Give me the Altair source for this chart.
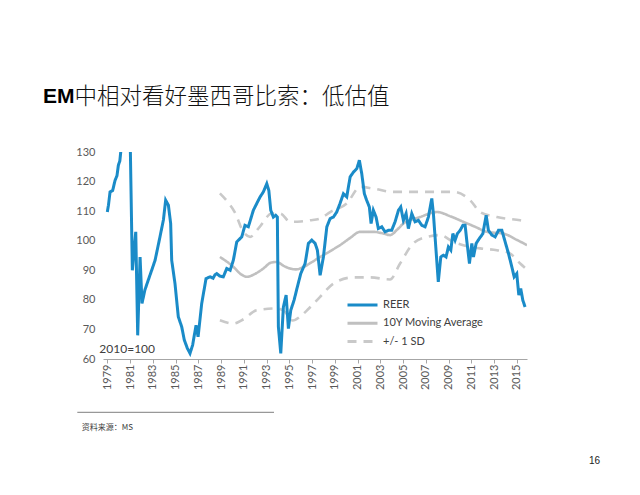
import altair as alt
import pandas as pd

# ---- data ----
reer_year = [1979.0, 1979.1, 1979.24, 1979.47, 1979.68, 1979.85, 1979.97, 1980.1, 1980.18, 1980.4,
             1980.7, 1980.95, 1981.2, 1981.5, 1981.67, 1981.88, 1982.05, 1982.3, 1982.7, 1982.9,
             1983.2, 1983.57, 1983.93, 1984.13, 1984.37, 1984.57, 1984.66, 1984.95, 1985.24, 1985.54,
             1985.77, 1986.04, 1986.27, 1986.5, 1986.8, 1986.98, 1987.3, 1987.68, 1988.03, 1988.3,
             1988.47, 1988.62, 1988.9, 1989.2, 1989.5, 1989.8, 1990.08, 1990.38, 1990.82, 1991.1,
             1991.4, 1991.84, 1992.14, 1992.43, 1992.72, 1993.02, 1993.2, 1993.37, 1993.6, 1993.8,
             1993.95, 1994.04, 1994.25, 1994.48, 1994.72, 1994.92, 1995.13, 1995.42, 1995.71, 1996.01,
             1996.39, 1996.68, 1996.98, 1997.27, 1997.47, 1997.71, 1998.0, 1998.3, 1998.59, 1998.88,
             1999.17, 1999.46, 1999.76, 2000.05, 2000.35, 2000.64, 2000.94, 2001.16, 2001.37, 2001.6,
             2001.8, 2002.04, 2002.19, 2002.39, 2002.63, 2002.83, 2003.13, 2003.42, 2003.71, 2004.0,
             2004.3, 2004.6, 2004.8, 2005.03, 2005.27, 2005.47, 2005.77, 2006.06, 2006.35, 2006.65,
             2006.94, 2007.23, 2007.53, 2007.67, 2007.9, 2008.1, 2008.32, 2008.55, 2008.78, 2008.99,
             2009.2, 2009.38, 2009.58, 2009.78, 2010.02, 2010.26, 2010.46, 2010.6, 2010.84, 2011.05,
             2011.19, 2011.43, 2011.72, 2012.02, 2012.31, 2012.51, 2012.81, 2013.1, 2013.39, 2013.69,
             2013.98, 2014.27, 2014.57, 2014.77, 2015.0, 2015.18, 2015.35, 2015.53, 2015.73]
reer_val = [109.7, 112.0, 116.5, 117.0, 120.4, 122.0, 125.5, 127.0, 130.0, 135.0,
            140.0, 148.0, 90.0, 103.0, 68.0, 94.5, 78.8, 83.3, 87.8, 90.0,
            93.4, 100.2, 107.0, 113.7, 112.0, 105.8, 93.4, 85.5, 74.3, 70.9,
            66.4, 63.6, 61.9, 64.7, 71.4, 67.5, 78.8, 87.2, 87.8, 87.3,
            88.5, 88.9, 88.0, 87.8, 90.6, 90.0, 93.4, 99.6, 101.3, 105.2,
            104.7, 110.3, 112.6, 114.8, 116.5, 119.3, 117.0, 110.3, 108.0, 108.6,
            108.0, 70.9, 61.9, 77.6, 81.6, 70.3, 76.5, 79.9, 84.4, 88.9,
            92.3, 99.1, 100.2, 99.1, 96.8, 88.3, 94.5, 104.7, 107.5, 108.0,
            109.7, 112.6, 115.9, 114.8, 121.6, 123.2, 124.4, 127.2, 122.7, 115.9,
            113.7, 111.4, 105.8, 110.3, 108.0, 104.1, 104.7, 103.0, 103.5, 103.5,
            106.4, 110.3, 111.4, 106.9, 109.2, 104.1, 109.2, 106.4, 106.9, 105.2,
            104.7, 108.0, 114.3, 109.2, 96.8, 86.1, 94.5, 95.1, 94.5, 97.9,
            96.8, 102.4, 100.2, 102.4, 103.5, 105.2, 105.2, 100.2, 92.3, 99.1,
            94.5, 99.1, 100.8, 102.4, 108.6, 103.5, 101.9, 101.3, 103.5, 103.5,
            99.6, 95.7, 91.1, 87.8, 88.9, 81.6, 83.8, 79.9, 77.6]

ma_year = [1988.9, 1990.1, 1990.7, 1991.26, 1992.0, 1992.72, 1993.4, 1993.9, 1994.5, 1995.07,
           1995.6, 1996.24, 1997.0, 1997.71, 1998.6, 1999.46, 2000.3, 2001.24, 2002.4, 2003.3,
           2003.86, 2004.5, 2005.03, 2006.5, 2007.97, 2009.2, 2010.3, 2011.4, 2012.37, 2013.83,
           2015.0, 2015.9]
ma_val = [94.5, 91.1, 88.8, 87.8, 88.8, 90.6, 92.6, 92.8, 91.5, 90.6,
          90.3, 91.1, 92.8, 94.5, 96.5, 98.5, 100.8, 103.0, 103.0, 102.4,
          101.9, 103.8, 105.8, 108.0, 109.7, 108.2, 106.4, 104.6, 103.0, 102.4,
          100.3, 98.5]

up_year = [1988.9, 1989.5, 1990.2, 1990.96, 1991.55, 1992.4, 1993.46, 1994.2, 1995.07, 1996.0,
           1996.83, 1997.7, 1998.6, 2000.05, 2001.24, 2002.4, 2004.16, 2006.5, 2007.38, 2009.43,
           2010.9, 2011.78, 2013.25, 2015.3, 2015.9]
up_val = [116.0, 113.5, 109.7, 103.0, 101.3, 104.7, 109.2, 109.2, 106.4, 106.5,
          106.9, 107.5, 109.7, 112.6, 118.2, 117.6, 116.5, 116.5, 116.5, 116.5,
          113.7, 109.7, 108.0, 106.9, 106.5]

lo_year = [1988.9, 1990.1, 1991.0, 1992.14, 1993.9, 1994.6, 1995.3, 1996.0, 1996.7, 1997.71,
           1998.88, 2000.64, 2002.1, 2003.86, 2004.74, 2005.9, 2007.1, 2008.26, 2009.43, 2010.3,
           2011.78, 2013.25, 2014.4, 2015.3, 2015.8]
lo_val = [73.1, 72.0, 73.5, 76.5, 77.1, 76.0, 73.0, 74.5, 77.0, 81.0,
          85.5, 87.6, 87.6, 86.9, 92.3, 99.1, 101.3, 101.9, 99.6, 98.5,
          97.4, 96.8, 95.7, 92.3, 90.6]

series_names = ["REER", "10Y Moving Average", "+/- 1 SD"]
series_colors = ["#1a8bc8", "#c0c0c0", "#c9c9c9"]
series_dash = [[1, 0], [1, 0], [9, 7]]
x_ticks = list(range(1979, 2016, 2))
y_ticks = [60, 70, 80, 90, 100, 110, 120, 130]

base_note = ["2010=100"]
note_year = [1978.3]
note_val = [63.5]

title_em = "EM"
title_cn = "中相对看好墨西哥比索：低估值"
source_text = "资料来源：MS"
page_no = "16"

# ---- tables ----
reer_df = pd.DataFrame({"year": reer_year, "value": reer_val, "series": "REER", "part": "reer"})
band_rows = []
for y, v in zip(ma_year, ma_val):
    band_rows.append({"year": y, "value": v, "series": "10Y Moving Average", "part": "ma"})
for y, v in zip(up_year, up_val):
    band_rows.append({"year": y, "value": v, "series": "+/- 1 SD", "part": "up"})
for y, v in zip(lo_year, lo_val):
    band_rows.append({"year": y, "value": v, "series": "+/- 1 SD", "part": "lo"})
band_df = pd.DataFrame(band_rows)
note_df = pd.DataFrame({"year": note_year, "value": note_val, "label": base_note})
one = pd.DataFrame({"k": [0]})

W, H = 424, 207
FONT = "Lato"

x_scale = alt.Scale(domain=[1978.62, 2015.9], nice=False, zero=False)
y_scale = alt.Scale(domain=[60, 130], nice=False, zero=False)

legend = alt.Legend(
    orient="none", legendX=253, legendY=146.5, title=None, padding=0,
    symbolType="M-3,0H3", symbolSize=100, symbolStrokeWidth=3,
    labelOffset=14, rowPadding=5.3, labelFont=FONT, labelFontSize=11,
    labelColor="#404040",
)
color = alt.Color("series:N", scale=alt.Scale(domain=series_names, range=series_colors), legend=legend)
dash = alt.StrokeDash("series:N", scale=alt.Scale(domain=series_names, range=series_dash), legend=legend)

x_axis = alt.Axis(
    values=x_ticks, format="d", labelAngle=270, title=None, grid=False,
    domainColor="#a6a6a6", tickColor="#a6a6a6", tickSize=4, labelPadding=1,
    labelFont=FONT, labelFontSize=11, labelColor="#595959", labelOverlap=False, labelFlush=False)
y_axis = alt.Axis(
    values=y_ticks, title=None, grid=False, domain=False, ticks=False, labelPadding=8,
    labelFont=FONT, labelFontSize=11, labelColor="#595959", labelFlush=False, labelOverlap=False)
x_enc = alt.X("year:Q", scale=x_scale, axis=x_axis)
y_enc = alt.Y("value:Q", scale=y_scale, axis=y_axis)

bands = alt.Chart(band_df).mark_line(clip=True, interpolate="monotone", strokeWidth=2.6).encode(
    x=x_enc, y=y_enc, color=color, strokeDash=dash, detail="part:N")
reer = alt.Chart(reer_df).mark_line(clip=True, strokeWidth=3).encode(
    x=x_enc, y=y_enc, color=color, strokeDash=dash, detail="part:N")

note = alt.Chart(note_df).mark_text(align="left", baseline="middle", font=FONT, fontSize=12,
                                    color="#404040").encode(
    x=x_enc, y=y_enc, text="label:N")

t_em = alt.Chart(one).mark_text(align="left", baseline="alphabetic", font="Liberation Sans",
                                fontSize=21, fontWeight="bold", color="#000000").encode(
    x=alt.value(-60), y=alt.value(-48.7), text=alt.value(title_em))
t_cn = alt.Chart(one).mark_text(align="left", baseline="alphabetic", font="Noto Sans CJK SC",
                                fontSize=22.5, fontWeight=300, color="#111111").encode(
    x=alt.value(-28.5), y=alt.value(-48), text=alt.value(title_cn))
src_rule = alt.Chart(one).mark_rule(color="#7f7f7f", strokeWidth=1).encode(
    x=alt.value(-25.7), x2=alt.value(171), y=alt.value(260.3))
src_txt = alt.Chart(one).mark_text(align="left", baseline="middle", font="Noto Sans CJK SC",
                                   fontSize=8, color="#404040").encode(
    x=alt.value(-21.3), y=alt.value(276.3), text=alt.value(source_text))
page = alt.Chart(one).mark_text(align="center", baseline="middle", font="Liberation Sans",
                                fontSize=10, color="#222222").encode(
    x=alt.value(491.5), y=alt.value(308.7), text=alt.value(page_no))

chart = alt.layer(bands, reer, note, t_em, t_cn, src_rule, src_txt, page).properties(
    width=W, height=H,
    autosize=alt.AutoSizeParams(type="none"),
    padding={"left": 95, "top": 144, "right": 100, "bottom": 125},
).configure_view(stroke=None)

chart.save("out.html", embed_options={"renderer": "svg", "actions": False})
